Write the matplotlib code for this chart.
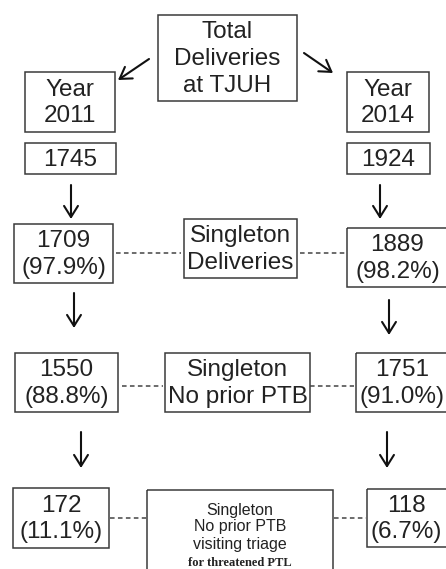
import matplotlib.pyplot as plt
from matplotlib.patches import Rectangle

# data
years = ["2011", "2014"]
total_deliveries = [1745, 1924]
singleton = [1709, 1889]
singleton_pct = [97.9, 98.2]
no_prior_ptb = [1550, 1751]
no_prior_ptb_pct = [88.8, 91.0]
triage = [172, 118]
triage_pct = [11.1, 6.7]
middle_labels = ["Total\nDeliveries\nat TJUH", "Singleton\nDeliveries", "Singleton\nNo prior PTB"]
triage_label = ["Singleton", "No prior PTB", "visiting triage"]
triage_note = "for threatened PTL"

plt.rcParams["font.family"] = ["Liberation Sans", "DejaVu Sans"]
EC = "#3a3a3a"
TC = "#222222"
BIG = 17.5

fig = plt.figure(figsize=(4.46, 5.69), dpi=100)
ax = fig.add_axes([0, 0, 1, 1])
ax.set_xlim(0, 446)
ax.set_ylim(569, 0)
ax.axis("off")


def box(x0, y0, x1, y1, text=None, size=BIG, ls=1.28, tx=None):
    ax.add_patch(Rectangle((x0, y0), x1 - x0, y1 - y0, fill=False, ec=EC, lw=1.1))
    if text is not None:
        if tx is None:
            tx = (x0 + x1) / 2
        ax.text(tx, (y0 + y1) / 2 + 1, text, ha="center", va="center",
                fontsize=size, color=TC, linespacing=ls)


def arrow(x0, y0, x1, y1):
    ax.annotate("", xy=(x1, y1), xytext=(x0, y0),
                arrowprops=dict(arrowstyle="->,head_length=0.8,head_width=0.5",
                                lw=1.5, color="#111111", shrinkA=0, shrinkB=0))


def dashed(x0, x1, y):
    ax.plot([x0, x1], [y, y], ls=(0, (3, 2.2)), lw=1.1, color="#444444")


def pct_text(n, p):
    return f"{n}\n({p:.1f}%)"


# top
box(158, 15, 297, 101, middle_labels[0], ls=1.32)
arrow(149, 59, 118, 80)
arrow(304, 53, 333, 73)

# year boxes
box(25, 72, 115, 132, "Year\n" + years[0])
box(347, 72, 429, 132, "Year\n" + years[1])
box(25, 143, 116, 174, str(total_deliveries[0]))
box(347, 143, 430, 174, str(total_deliveries[1]))

arrow(71, 185, 71, 219)
arrow(380, 185, 380, 219)

# singleton row
box(14, 224, 113, 283, pct_text(singleton[0], singleton_pct[0]))
box(184, 219, 297, 278, middle_labels[1])
box(347, 228, 460, 287, pct_text(singleton[1], singleton_pct[1]), tx=397.5)
dashed(116, 181, 253)
dashed(300, 345, 253)

arrow(74, 293, 74, 328)
arrow(389, 300, 389, 335)

# no prior PTB row
box(15, 353, 118, 412, pct_text(no_prior_ptb[0], no_prior_ptb_pct[0]))
box(165, 353, 310, 412, middle_labels[2])
box(356, 353, 460, 412, pct_text(no_prior_ptb[1], no_prior_ptb_pct[1]), tx=402)
dashed(122, 163, 386)
dashed(310, 354, 386)

arrow(81, 432, 81, 468)
arrow(387, 432, 387, 468)

# triage row
box(13, 488, 109, 548, pct_text(triage[0], triage_pct[0]))
box(147, 490, 333, 620)
for i, t in enumerate(triage_label):
    ax.text(240, 510 + i * 17, t, ha="center", va="center", fontsize=11.5, color=TC)
ax.text(240, 563, triage_note, ha="center", va="center", fontsize=9,
        color=TC, family="Liberation Serif", fontweight="bold")
box(367, 489, 460, 547, pct_text(triage[1], triage_pct[1]), tx=406)
dashed(110, 146, 518)
dashed(334, 366, 518)

fig.savefig("out.png", dpi=100)
